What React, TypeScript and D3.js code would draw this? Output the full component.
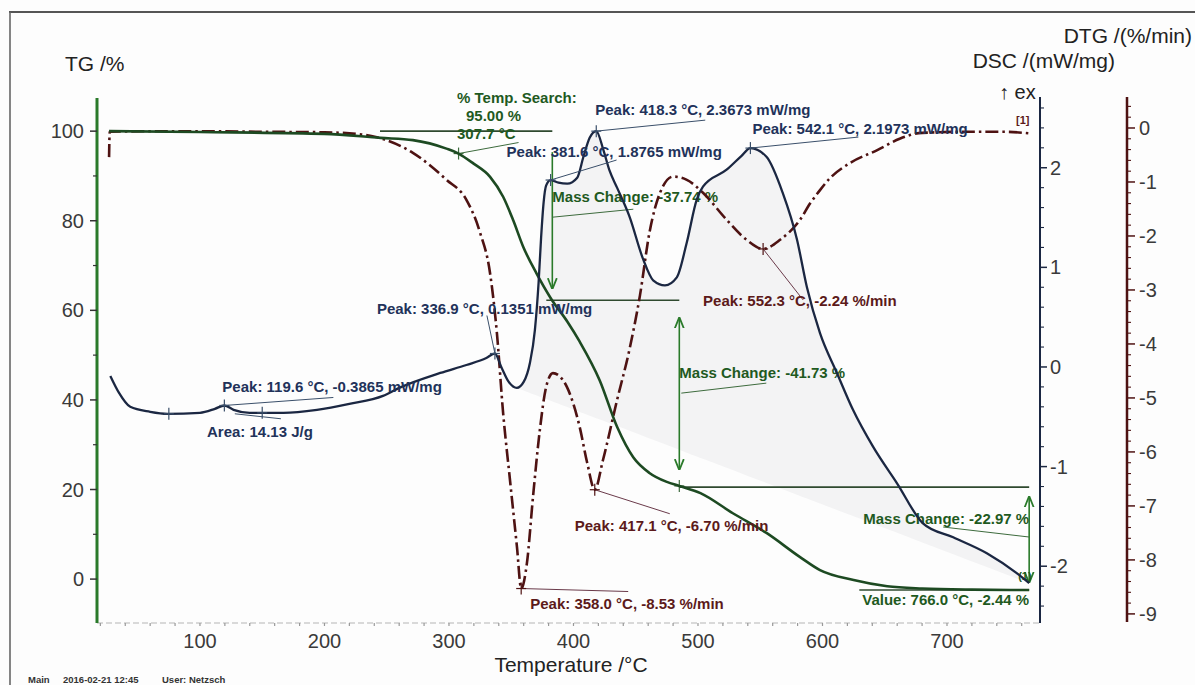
import React from 'react';
import * as d3 from 'd3';

const W = 1195, H = 685;

// ---- data ----
const tgTemps = [27, 100, 200, 245, 271, 298, 307.7, 319.5, 333, 343.6, 351.6, 359.6, 370.4, 382, 395, 405, 421, 435, 448, 461, 475, 485, 502, 528, 555, 582, 598, 625, 652, 680, 720, 766];
const tgValues = [100, 99.8, 99.4, 98.5, 98.0, 96.1, 95.0, 92.8, 89.8, 85.3, 80.1, 74.2, 68.2, 62.6, 57.5, 53.0, 44.4, 34.0, 27.2, 23.7, 21.7, 20.8, 19.2, 14.7, 10.3, 4.9, 2.0, -0.2, -1.6, -2.1, -2.35, -2.44];

const dscTemps = [28, 35, 44, 60, 74, 100, 112, 119.6, 127, 140, 167, 194, 220, 247, 260, 293, 314, 330, 336.9, 342, 348, 354.5, 360, 365, 369, 372, 374, 376, 378, 381.6, 388, 395, 403, 408, 413, 418.3, 424, 429, 435, 445, 456, 464, 473.5, 483, 491, 499, 504, 523, 535, 542.1, 555, 568, 579.5, 587.5, 598, 611.6, 624.5, 640.6, 660, 680.7, 705, 732, 756, 766];
const dscValues = [-0.09, -0.26, -0.40, -0.45, -0.47, -0.46, -0.42, -0.3865, -0.43, -0.46, -0.46, -0.43, -0.37, -0.29, -0.21, -0.06, 0.02, 0.09, 0.1351, 0.0, -0.15, -0.21, -0.15, 0.04, 0.37, 0.85, 1.3, 1.65, 1.82, 1.8765, 1.85, 1.84, 1.9, 2.11, 2.30, 2.3673, 2.18, 1.97, 1.8, 1.51, 1.08, 0.87, 0.82, 0.9, 1.25, 1.68, 1.81, 1.98, 2.12, 2.1973, 2.11, 1.75, 1.28, 0.80, 0.34, -0.06, -0.43, -0.80, -1.17, -1.57, -1.71, -1.87, -2.07, -2.17];

const dtgTemps = [27, 27.5, 60, 100, 150, 200, 230, 245, 271, 298, 314, 325, 333, 338.5, 343.5, 349, 354.6, 358, 362.6, 367.5, 373, 378, 383.5, 389, 394.8, 405, 411, 417.1, 423.7, 435, 445, 453.4, 461, 469.5, 480, 491, 504, 523, 539, 552.3, 566, 582, 590, 598, 606, 622, 644, 662, 680, 716, 745, 766];
const dtgValues = [-0.54, -0.07, -0.06, -0.06, -0.07, -0.08, -0.12, -0.19, -0.46, -0.96, -1.33, -1.94, -2.69, -3.8, -5.28, -6.52, -7.76, -8.53, -8.06, -6.83, -5.59, -4.8, -4.54, -4.6, -4.8, -5.54, -6.2, -6.70, -6.15, -5.04, -4.1, -3.1, -1.94, -1.2, -0.9, -0.96, -1.2, -1.7, -2.07, -2.24, -2.07, -1.7, -1.4, -1.15, -0.93, -0.65, -0.41, -0.2, -0.09, -0.07, -0.07, -0.1];

const xTickLabels = [100, 200, 300, 400, 500, 600, 700];
const tgTickLabels = [0, 20, 40, 60, 80, 100];
const dscTickLabels = [-2, -1, 0, 1, 2];
const dtgTickLabels = [0, -1, -2, -3, -4, -5, -6, -7, -8, -9];

// mass-change steps (TG levels)
const stepTemps = [244.6, 383, 485, 766];
const stepLevels = [100, 62.26, 20.53, -2.44];

const FONT = 'Liberation Sans, Arial, Helvetica, sans-serif';
const C_TG = '#1d4a22';
const C_TGA = '#2a7a2a';
const C_TGT = '#1f5a1f';
const C_DSC = '#1b2742';
const C_DSCT = '#22325a';
const C_DTG = '#4e1212';
const C_DTGT = '#5c1a1a';
const C_TICK = '#3a3a3a';

export default function App() {
  const x = d3.scaleLinear().domain([17.3, 774.7]).range([97, 1040]);
  const yTG = d3.scaleLinear().domain([-9.8, 107.4]).range([623, 98]);
  const yDSC = d3.scaleLinear().domain([-2.57, 2.71]).range([623, 97]);
  const yDTG = d3.scaleLinear().domain([-9.15, 0.574]).range([622, 97]);

  const tgPts = tgTemps.map((t, i) => [t, tgValues[i]] as [number, number]);
  const dscPts = dscTemps.map((t, i) => [t, dscValues[i]] as [number, number]);
  const dtgPts = dtgTemps.map((t, i) => [t, dtgValues[i]] as [number, number]);

  const lineTG = d3.line<[number, number]>().x(d => x(d[0])).y(d => yTG(d[1])).curve(d3.curveMonotoneX);
  const lineDSC = d3.line<[number, number]>().x(d => x(d[0])).y(d => yDSC(d[1])).curve(d3.curveMonotoneX);
  const lineDTG = d3.line<[number, number]>().x(d => x(d[0])).y(d => yDTG(d[1])).curve(d3.curveMonotoneX);

  // integration shading (DSC vs straight baseline)
  const fillPts = dscPts.filter(d => d[0] >= 354.5);
  const b0 = fillPts[0], b1 = fillPts[fillPts.length - 1];
  const base = (t: number) => b0[1] + (t - b0[0]) / (b1[0] - b0[0]) * (b1[1] - b0[1]);
  const areaDSC = d3.area<[number, number]>().x(d => x(d[0])).y0(d => yDSC(base(d[0]))).y1(d => yDSC(d[1])).curve(d3.curveMonotoneX);

  const xMinor = d3.range(20, 761, 20);
  const tgMinor = d3.range(0, 101, 10).filter(v => v % 20 !== 0);
  const dscMinor = d3.range(-24, 27, 2).map(v => v / 10).filter(v => Math.abs(v - Math.round(v)) > 1e-6);
  const dtgMinor = d3.range(-90, 5, 2).map(v => v / 10).filter(v => Math.abs(v - Math.round(v)) > 1e-6);

  const annTxt = { fontFamily: FONT, fontSize: 15, fontWeight: 700 } as const;
  const cross = (cx: number, cy: number, color: string, key: string) => (
    <g key={key} stroke={color} strokeWidth={1.2}>
      <line x1={cx - 5} x2={cx + 5} y1={cy} y2={cy} />
      <line x1={cx} x2={cx} y1={cy - 6} y2={cy + 6} />
    </g>
  );

  // peak annotations: [T, value, leaderDx, leaderDy, textDx, textDy, label]
  const dscPeaks: [number, number, number, number, number, number, string][] = [
    [119.6, -0.3865, 109, -8, -2, -13, 'Peak: 119.6 °C, -0.3865 mW/mg'],
    [336.9, 0.1351, -8, -38, -118, -40, 'Peak: 336.9 °C, 0.1351 mW/mg'],
    [381.6, 1.8765, 66, -20, -44, -23, 'Peak: 381.6 °C, 1.8765 mW/mg'],
    [418.3, 2.3673, 109, -11, -1, -16, 'Peak: 418.3 °C, 2.3673 mW/mg'],
    [542.1, 2.1973, 108, -11, 2, -14, 'Peak: 542.1 °C, 2.1973 mW/mg'],
  ];
  const dtgPeaks: [number, number, number, number, number, number, string][] = [
    [358.0, -8.53, 107, 3, 9, 20, 'Peak: 358.0 °C, -8.53 %/min'],
    [417.1, -6.70, 75, 24, -20, 41, 'Peak: 417.1 °C, -6.70 %/min'],
    [552.3, -2.24, 40, 51, -60, 57, 'Peak: 552.3 °C, -2.24 %/min'],
  ];

  const xs = stepTemps.map(t => x(t));
  const ys = stepLevels.map(v => yTG(v));

  return (
    <svg width={W} height={H} viewBox={`0 0 ${W} ${H}`} style={{ position: 'absolute', left: 0, top: 0, background: '#fdfdfd' }}>
      <defs>
        <marker id="ah" viewBox="0 0 10 10" refX="9" refY="5" markerWidth="7" markerHeight="9" orient="auto-start-reverse">
          <path d="M0,1 L10,5 L0,9" fill="none" stroke={C_TGA} strokeWidth={1.6} />
        </marker>
      </defs>
      <rect x={0} y={0} width={W} height={H} fill="#fdfdfd" />
      {/* page frame */}
      <line x1={9} x2={W} y1={12} y2={12} stroke="#555" strokeWidth={2} />
      <line x1={10} x2={10} y1={12} y2={H} stroke="#666" strokeWidth={1.6} />

      {/* shading */}
      <path d={areaDSC(fillPts) || ''} fill="#f3f3f4" stroke="none" />

      {/* bottom axis */}
      <line x1={97} x2={1040} y1={623} y2={623} stroke="#b5b5b5" strokeWidth={1} strokeDasharray="6,3" />
      {xMinor.map(t => <line key={'xm' + t} x1={x(t)} x2={x(t)} y1={623} y2={626} stroke="#999" strokeWidth={1.2} />)}
      {xTickLabels.map(t => (
        <text key={'xl' + t} x={x(t)} y={648} textAnchor="middle" fontFamily={FONT} fontSize={20} fill={C_TICK}>{t}</text>
      ))}
      <text x={571} y={672} textAnchor="middle" fontFamily={FONT} fontSize={21} fill="#222">Temperature /°C</text>

      {/* TG axis */}
      <line x1={97} x2={97} y1={98} y2={623} stroke={C_TGA} strokeWidth={3} />
      {tgTickLabels.map(v => (
        <g key={'tg' + v}>
          <line x1={90} x2={97} y1={yTG(v)} y2={yTG(v)} stroke="#333" strokeWidth={1.5} />
          <text x={84} y={yTG(v) + 7} textAnchor="end" fontFamily={FONT} fontSize={20} fill={C_TICK}>{v}</text>
        </g>
      ))}
      {tgMinor.map(v => <line key={'tgm' + v} x1={93} x2={97} y1={yTG(v)} y2={yTG(v)} stroke="#333" strokeWidth={1.2} />)}
      <text x={65} y={71} fontFamily={FONT} fontSize={21} fill="#222">TG /%</text>

      {/* DSC axis */}
      <line x1={1040} x2={1040} y1={97} y2={623} stroke={C_DSC} strokeWidth={2} />
      {dscTickLabels.map(v => (
        <g key={'dsc' + v}>
          <line x1={1040} x2={1047} y1={yDSC(v)} y2={yDSC(v)} stroke={C_DSC} strokeWidth={1.5} />
          <text x={1050} y={yDSC(v) + 7} fontFamily={FONT} fontSize={20} fill={C_TICK}>{v}</text>
        </g>
      ))}
      {dscMinor.map(v => <line key={'dscm' + v} x1={1040} x2={1044} y1={yDSC(v)} y2={yDSC(v)} stroke={C_DSC} strokeWidth={1.1} />)}
      <text x={1115} y={68} textAnchor="end" fontFamily={FONT} fontSize={21} fill="#222">DSC /(mW/mg)</text>
      <text x={999} y={99} fontFamily={FONT} fontSize={20} fill="#222">↑ ex</text>

      {/* DTG axis */}
      <line x1={1127} x2={1127} y1={97} y2={622} stroke={C_DTG} strokeWidth={2.5} />
      {dtgTickLabels.map(v => (
        <g key={'dtg' + v}>
          <line x1={1127} x2={1135} y1={yDTG(v)} y2={yDTG(v)} stroke={C_DTG} strokeWidth={1.5} />
          <text x={1139} y={yDTG(v) + 7} fontFamily={FONT} fontSize={20} fill={C_TICK}>{v}</text>
        </g>
      ))}
      {dtgMinor.map(v => <line key={'dtgm' + v} x1={1127} x2={1131} y1={yDTG(v)} y2={yDTG(v)} stroke={C_DTG} strokeWidth={1.1} />)}
      <text x={1192} y={43} textAnchor="end" fontFamily={FONT} fontSize={21} fill="#222">DTG /(%/min)</text>

      {/* TG step levels and arrows */}
      <g stroke={C_TGA} strokeWidth={1.6} fill="none">
        <line x1={xs[0]} x2={xs[1]} y1={ys[0]} y2={ys[0]} stroke="#2f4a2f" />
        <line x1={xs[1] - 6} x2={xs[2]} y1={ys[1]} y2={ys[1]} stroke="#2f4a2f" />
        <line x1={xs[2]} x2={xs[3]} y1={ys[2]} y2={ys[2]} stroke="#2f4a2f" />
        <line x1={xs[2] + 180} x2={xs[3]} y1={ys[3]} y2={ys[3]} stroke="#2f4a2f" />
        <line x1={xs[1]} x2={xs[1]} y1={ys[0] + 21} y2={ys[1] - 12} markerEnd="url(#ah)" />
        <line x1={xs[2]} x2={xs[2]} y1={ys[1] + 18} y2={ys[2] - 18} markerStart="url(#ah)" markerEnd="url(#ah)" />
        <line x1={xs[3]} x2={xs[3]} y1={ys[2] + 10} y2={ys[3] - 8} markerStart="url(#ah)" markerEnd="url(#ah)" />
      </g>
      <g stroke="#3d6b3d" strokeWidth={1}>
        <line x1={xs[1]} y1={ys[1] - 83} x2={xs[1] + 81} y2={ys[1] - 91} />
        <line x1={xs[2] + 2} y1={ys[2] - 94} x2={xs[2] + 87} y2={ys[2] - 104} />
        <line x1={xs[3] - 86} y1={ys[3] - 63} x2={xs[3]} y2={ys[3] - 53} />
        <line x1={x(307.7)} y1={yTG(95)} x2={x(307.7) + 60} y2={yTG(95) - 11} />
      </g>
      {cross(x(307.7), yTG(95), '#3d6b3d', 'c95')}
      {cross(xs[2], yTG(20.8), '#3d6b3d', 'c485')}
      <g {...annTxt} fill={C_TGT}>
        <text x={457} y={103}>% Temp. Search:</text>
        <text x={466} y={121}>95.00 %</text>
        <text x={457} y={139}>307.7 °C</text>
        <text x={xs[1]} y={ys[1] - 98}>Mass Change: -37.74 %</text>
        <text x={xs[2]} y={ys[2] - 109}>Mass Change: -41.73 %</text>
        <text x={xs[3]} y={ys[3] - 66} textAnchor="end">Mass Change: -22.97 %</text>
        <text x={xs[3]} y={ys[3] + 15} textAnchor="end">Value: 766.0 °C, -2.44 %</text>
        <text x={xs[3] - 11} y={ys[3] - 10} fontSize={11}>(1)</text>
      </g>

      {/* curves */}
      <path d={lineDTG(dtgPts) || ''} fill="none" stroke={C_DTG} strokeWidth={2.6} strokeDasharray="13,4,2.5,4" />
      <path d={lineTG(tgPts) || ''} fill="none" stroke={C_TG} strokeWidth={2.6} />
      <path d={lineDSC(dscPts) || ''} fill="none" stroke={C_DSC} strokeWidth={2.3} />
      <text x={1016} y={124} fontFamily={FONT} fontSize={11} fontWeight={700} fill={C_DTGT}>[1]</text>

      {/* DSC annotations */}
      {dscPeaks.map(([t, v, ldx, ldy, tdx, tdy, label], i) => {
        const px = x(t), py = yDSC(v);
        return (
          <g key={'dp' + i}>
            <line x1={px} y1={py} x2={px + ldx} y2={py + ldy} stroke="#3a4f6a" strokeWidth={1} />
            {cross(px, py, '#3a4f6a', 'dpc' + i)}
            <text x={px + tdx} y={py + tdy} {...annTxt} fill={C_DSCT}>{label}</text>
          </g>
        );
      })}
      {cross(x(75), yDSC(-0.47), '#3a4f6a', 'a75')}
      {cross(x(150), yDSC(-0.46), '#3a4f6a', 'a150')}
      <line x1={x(128)} y1={yDSC(-0.47)} x2={x(165)} y2={yDSC(-0.52)} stroke="#3a4f6a" strokeWidth={1} />
      <text x={207} y={437} {...annTxt} fill={C_DSCT}>Area: 14.13 J/g</text>

      {/* DTG annotations */}
      {dtgPeaks.map(([t, v, ldx, ldy, tdx, tdy, label], i) => {
        const px = x(t), py = yDTG(v);
        return (
          <g key={'tp' + i}>
            <line x1={px} y1={py} x2={px + ldx} y2={py + ldy} stroke="#6a3a4a" strokeWidth={1} />
            {cross(px, py, '#4e1212', 'tpc' + i)}
            <text x={px + tdx} y={py + tdy} {...annTxt} fill={C_DTGT}>{label}</text>
          </g>
        );
      })}

      {/* footer */}
      <text x={28} y={683} fontFamily={FONT} fontSize={9.5} fontWeight={700} fill="#333">Main</text>
      <text x={63} y={683} fontFamily={FONT} fontSize={9.5} fontWeight={700} fill="#333">2016-02-21 12:45</text>
      <text x={162} y={683} fontFamily={FONT} fontSize={9.5} fontWeight={700} fill="#333">User: Netzsch</text>
    </svg>
  );
}
